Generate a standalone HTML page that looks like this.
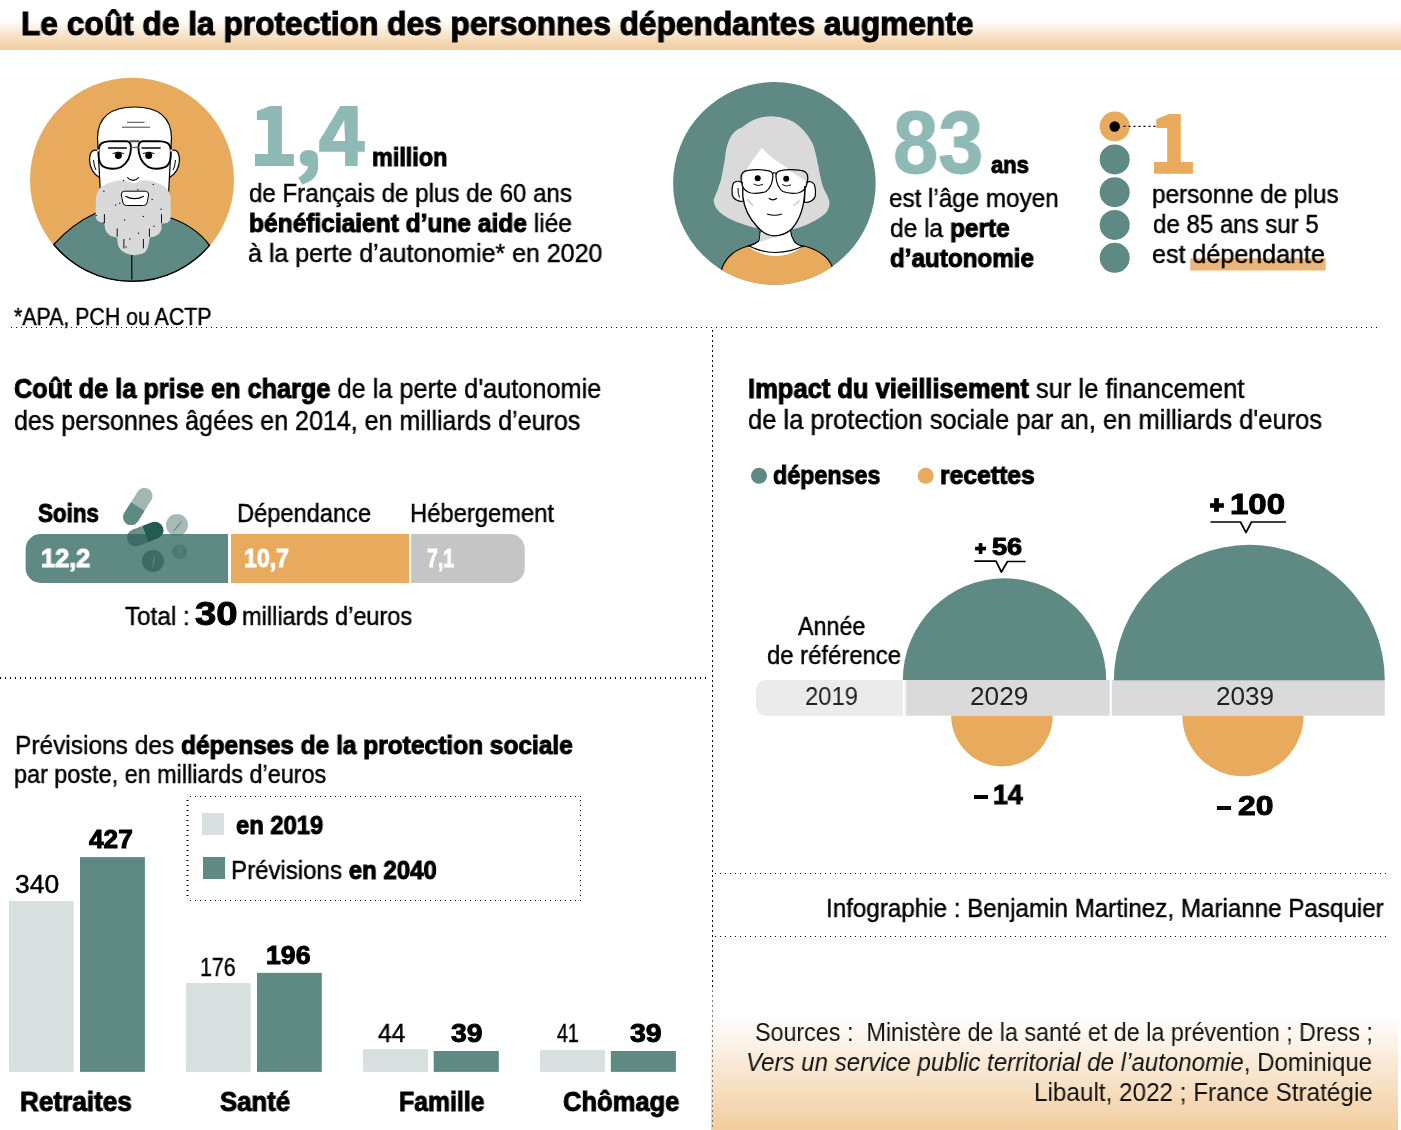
<!DOCTYPE html>
<html><head><meta charset="utf-8"><style>
html,body{margin:0;padding:0;background:#fff;}
body{width:1401px;height:1130px;position:relative;overflow:hidden;font-family:"Liberation Sans", sans-serif;}
.t{position:absolute;white-space:nowrap;transform-origin:0 0;will-change:transform;}
.t{-webkit-text-stroke:0.45px currentColor;}
.t b,.t.bd{font-weight:700;-webkit-text-stroke:1px currentColor;}
svg{position:absolute;left:0;top:0;}
</style></head><body>
<svg width="1401" height="1130" viewBox="0 0 1401 1130">
<defs>
<linearGradient id="gT" x1="0" y1="0" x2="0" y2="1">
 <stop offset="0" stop-color="#fff"/><stop offset="0.38" stop-color="#fff"/><stop offset="1" stop-color="#f1cb9c"/>
</linearGradient>
<linearGradient id="gS" x1="0" y1="0" x2="0" y2="1">
 <stop offset="0" stop-color="#fff"/><stop offset="1" stop-color="#f2cd9e"/>
</linearGradient>
<clipPath id="cMan"><circle cx="132" cy="179.8" r="102"/></clipPath>
<clipPath id="cWom"><circle cx="774.4" cy="183.4" r="101.3"/></clipPath>
</defs>
<rect x="0" y="0" width="1401" height="50" fill="url(#gT)"/>
<rect x="711" y="1014" width="687" height="116" fill="url(#gS)"/>
<pattern id="dp1" x="11" y="327" width="5" height="1" patternUnits="userSpaceOnUse"><rect width="1" height="1" fill="#000"/></pattern>
<rect x="11" y="327" width="1366" height="1" fill="url(#dp1)"/>
<pattern id="dp2" x="0" y="677" width="5" height="2" patternUnits="userSpaceOnUse"><rect width="1" height="2" fill="#000"/></pattern>
<rect x="0" y="677" width="706" height="2" fill="url(#dp2)"/>
<pattern id="dp3" x="715" y="873" width="5" height="1" patternUnits="userSpaceOnUse"><rect width="1" height="1" fill="#000"/></pattern>
<rect x="715" y="873" width="671" height="1" fill="url(#dp3)"/>
<pattern id="dp4" x="715" y="936" width="5" height="1" patternUnits="userSpaceOnUse"><rect width="1" height="1" fill="#000"/></pattern>
<rect x="715" y="936" width="671" height="1" fill="url(#dp4)"/>
<pattern id="dp5" x="712" y="330" width="1" height="5" patternUnits="userSpaceOnUse"><rect width="1" height="2" fill="#000"/></pattern>
<rect x="712" y="330" width="1" height="657" fill="url(#dp5)"/>
<pattern id="dp6" x="712" y="990" width="1" height="5" patternUnits="userSpaceOnUse"><rect width="1" height="2" fill="#7a7a7a"/></pattern>
<rect x="712" y="990" width="1" height="137" fill="url(#dp6)"/>
<g>
<circle cx="132" cy="179.8" r="102" fill="#e8aa5c"/>
<g clip-path="url(#cMan)">
<path d="M 20 268 L 53.80 244.51 Q 72 224 96 213 L 171 218 Q 196 227 209.50 245.34 L 246 268 L 246 300 L 20 300 Z" fill="#5f8a84" stroke="#000" stroke-width="1.3"/>
</g>
<path d="M 53.80 244.51 A 101.5 101.5 0 0 0 209.50 245.34" fill="none" stroke="#000" stroke-width="1.4"/>
<path d="M 99 151 Q 90 147 89.5 160 Q 90 172 100 178 Z" fill="#fff" stroke="#000" stroke-width="1.2"/>
<path d="M 170 151 Q 179 147 179.5 160 Q 179 172 169 178 Z" fill="#fff" stroke="#000" stroke-width="1.2"/>
<path d="M 93.5 160 Q 94 167 96 170" fill="none" stroke="#000" stroke-width="1"/>
<path d="M 175.5 160 Q 175 167 173 170" fill="none" stroke="#000" stroke-width="1"/>
<path d="M 100.5 195 L 97.5 138 Q 98 107 134.5 107 Q 171 107 171.5 138 L 168.5 195 Z" fill="#fff" stroke="#000" stroke-width="1.2"/>
<line x1="127" y1="122.3" x2="144.5" y2="122.3" stroke="#444" stroke-width="1"/>
<line x1="122" y1="127.2" x2="150" y2="127.2" stroke="#444" stroke-width="1"/>
<path d="M 96 196.8 Q 98 187 105 184.8 Q 114 180.5 123.1 180.3 Q 127.5 180.8 129.9 182.1 Q 133.6 184.5 138.2 182.1 Q 140.5 180.6 144.2 180.3 Q 153 180.5 161.5 184.8 Q 169 188 170.5 196.8 L 170.9 217.1 Q 170 223.2 164 223.6 L 161.5 223.6 L 161.5 229.2 Q 159 237 149.8 237.5 L 148.7 244.2 Q 147 252.5 141.9 253.8 Q 137 255.2 133.6 255.2 Q 129 255 125.4 253 Q 119 250 117.8 244.2 L 117.1 237.5 Q 111 236.5 108.8 234.4 Q 105 231 105 227.7 L 104.3 223.4 Q 99 222.5 96.8 220.1 Q 95.4 218 95.6 214.1 Z" fill="#d9d9d9"/>
<line x1="104.4" y1="214.1" x2="104.4" y2="223.2" stroke="#111" stroke-width="1"/>
<line x1="161.5" y1="214.1" x2="161.5" y2="223.2" stroke="#111" stroke-width="1"/>
<line x1="117.2" y1="228.4" x2="117.2" y2="236.7" stroke="#111" stroke-width="1"/>
<line x1="149.4" y1="228.6" x2="149.4" y2="236.9" stroke="#111" stroke-width="1"/>
<line x1="123.9" y1="239" x2="123.9" y2="248.4" stroke="#111" stroke-width="1"/>
<line x1="143.4" y1="239" x2="143.4" y2="248.4" stroke="#111" stroke-width="1"/>
<line x1="102.5" y1="222.8" x2="104.4" y2="222.8" stroke="#111" stroke-width="0.8"/>
<circle cx="103.9" cy="191.2" r="0.75" fill="#222"/>
<circle cx="123.5" cy="180.6" r="0.75" fill="#222"/>
<circle cx="137.8" cy="189.7" r="0.75" fill="#222"/>
<circle cx="153.2" cy="184.4" r="0.75" fill="#222"/>
<circle cx="152.1" cy="199.5" r="0.75" fill="#222"/>
<circle cx="115.6" cy="205.1" r="0.75" fill="#222"/>
<circle cx="119.7" cy="203.2" r="0.75" fill="#222"/>
<circle cx="161.1" cy="209.2" r="0.75" fill="#222"/>
<circle cx="143.4" cy="216.4" r="0.75" fill="#222"/>
<circle cx="124.6" cy="220.1" r="0.75" fill="#222"/>
<circle cx="154" cy="226.2" r="0.75" fill="#222"/>
<circle cx="138.5" cy="233.3" r="0.75" fill="#222"/>
<circle cx="129.9" cy="239" r="0.75" fill="#222"/>
<circle cx="126.1" cy="246.9" r="0.75" fill="#222"/>
<circle cx="96.2" cy="215.6" r="0.75" fill="#222"/>
<path d="M 124.5 191.2 L 145.5 191.2 Q 149 191.4 148.6 195 L 147 203 Q 146.3 205.5 143.5 205.5 L 126.5 205.5 Q 123.8 205.5 123 203 L 121.3 195 Q 121 191.4 124.5 191.2 Z" fill="#fff" stroke="#000" stroke-width="1"/>
<path d="M 125.4 196.2 Q 134.5 201.2 143.8 196.2" fill="none" stroke="#000" stroke-width="1.2"/>
<path d="M 127.2 177.3 Q 133.2 183.5 138.9 177.3" fill="none" stroke="#000" stroke-width="1.1"/>
<line x1="131.8" y1="255" x2="131.8" y2="279.5" stroke="#000" stroke-width="1.2"/>
<path d="M 98.6 150.5 Q 99 143 104 142.2 Q 108 141.2 112 141.1 L 127 141.3 Q 130.8 141.8 131 147 Q 131.2 153 128.4 159.3 Q 125.5 164.5 121.5 166.8 Q 117 168.9 112.5 168.8 Q 106 168.5 102.5 166 Q 99.3 163 98.7 157 Z" fill="none" stroke="#000" stroke-width="1.9"/>
<path d="M 170.80 150.5 Q 170.40 143.0 165.40 142.2 Q 161.40 141.2 157.40 141.1 L 142.40 141.3 Q 138.60 141.8 138.40 147.0 Q 138.20 153.0 141.00 159.3 Q 143.90 164.5 147.90 166.8 Q 152.40 168.9 156.90 168.8 Q 163.40 168.5 166.90 166.0 Q 170.10 163.0 170.70 157.0 Z" fill="none" stroke="#000" stroke-width="1.9"/>
<rect x="129.3" y="140.2" width="10.3" height="2.1" fill="#555"/>
<rect x="130.6" y="146.8" width="8.2" height="1.3" fill="#666"/>
<rect x="97" y="149.6" width="2.2" height="1.8" fill="#fff"/>
<rect x="170.2" y="149.6" width="2.2" height="1.8" fill="#fff"/>
<line x1="108.1" y1="148" x2="126.9" y2="148" stroke="#000" stroke-width="1.5"/>
<line x1="141.5" y1="148" x2="160.6" y2="148" stroke="#000" stroke-width="1.5"/>
<path d="M 112.6 153.6 Q 118.4 150.6 123.8 153.6" fill="none" stroke="#000" stroke-width="1"/>
<path d="M 143 153.6 Q 148.7 150.6 154.4 153.6" fill="none" stroke="#000" stroke-width="1"/>
<circle cx="118.4" cy="155.6" r="3.5" fill="#000"/>
<circle cx="148.7" cy="155.6" r="3.5" fill="#000"/>
</g>
<g>
<circle cx="774.4" cy="183.4" r="101.3" fill="#5f8a84"/>
<g clip-path="url(#cWom)">
<path d="M 742.2 127.3 Q 755 116 771.9 116.2 Q 790 117 799.2 126.1 Q 810 136 814 147.2 Q 817 158 819 169.5 Q 821 182 824 189.3 Q 828 196 829.5 201.7 Q 830 211 821.5 216.6 Q 810 225 794.2 229 L 754.6 227.7 Q 733 222 723.6 215.3 Q 713 208 713.7 199.2 Q 718 190 721.1 179.4 Q 723 170 724.8 159.6 Q 726 146 729.8 138.5 Q 734 130 742.2 127.3 Z" fill="#dadada"/>
<path d="M 716 300 L 722 268 Q 728 252 747.1 246.3 L 760 242 Q 776 262 804 246 Q 826 252 832 266 L 840 300 Z" fill="#e8aa5c" stroke="#000" stroke-width="1.2"/>
</g>
<path d="M 760.1 226 L 760.1 231.4 Q 760 240 758.3 241.3 Q 754 245 747.1 246.3 Q 776 266 804.1 246.3 Q 796 244 794.2 241.3 Q 791 236 790.5 226 Z" fill="#fff"/>
<path d="M 760.1 231 Q 760 240 758.3 241.3 Q 754 245 747.1 246.3" fill="none" stroke="#000" stroke-width="1.2"/>
<path d="M 790.5 230.5 Q 791 236 794.2 241.3 Q 797 245 804.1 246.3" fill="none" stroke="#000" stroke-width="1.2"/>
<path d="M 748.5 245.8 Q 760 252 775 252.5 Q 792 252 803 246" fill="none" stroke="#000" stroke-width="1.2"/>
<path d="M 760.5 233 L 782 234.5 Q 770 239 759.5 242 Z" fill="#dadada"/>
<path d="M 743 183 Q 737 179.5 733.5 183 Q 731.5 187 732.3 195 Q 734 201.5 743.5 201.5 Z" fill="#fff" stroke="#000" stroke-width="1.2"/>
<path d="M 805 183 Q 811 180 814 184 Q 816 188 815.3 196 Q 813.5 202.5 804.5 202.5 Z" fill="#fff" stroke="#000" stroke-width="1.2"/>
<path d="M 738 188 Q 737.8 194 739.5 197.5" fill="none" stroke="#000" stroke-width="1"/>
<path d="M 743 176 Q 752 160 762 147.8 Q 768 155 774.4 159.6 Q 785 166 791.7 172 Q 800 177 806 181 L 805 190.5 Q 804 215 791.7 229 Q 784 235.8 774.4 235.8 Q 765 235 757 226.5 Q 746 214 742.8 196.7 Z" fill="#fff"/>
<path d="M 742.8 188 L 742.8 196.7 Q 745 214 757 226.5 Q 765 235.8 774.4 235.8 Q 784 235.8 791.7 229 Q 804 215 804.8 190.5 L 804.8 186" fill="none" stroke="#000" stroke-width="1.3"/>
<path d="M 747.1 199.2 Q 750 203 753.3 205.4" fill="none" stroke="#d0d0d0" stroke-width="1.8"/>
<path d="M 799.2 200.5 Q 797 203.5 793.6 205.4" fill="none" stroke="#d0d0d0" stroke-width="1.8"/>
<path d="M 741 178 Q 741 171 748 170.3 Q 760 168.8 769 170.8 Q 773.5 172 772.8 177 Q 772 187 766 191.5 Q 760 194 751 193 Q 744.5 191.5 742.5 186 Q 741 182 741 178 Z" fill="none" stroke="#000" stroke-width="1.2"/>
<path d="M 807.8 178 Q 807.8 171 800.8 170.3 Q 788.8 168.8 779.8 170.8 Q 775.3 172 776 177 Q 776.8 187 782.8 191.5 Q 788.8 194 797.8 193 Q 804.3 191.5 806.3 186 Q 807.8 182 807.8 178 Z" fill="none" stroke="#000" stroke-width="1.2"/>
<path d="M 772.5 174 Q 774.5 171.5 776.5 174" fill="none" stroke="#000" stroke-width="1.2"/>
<circle cx="757.7" cy="178.3" r="3" fill="#000"/>
<circle cx="786.2" cy="178.8" r="3" fill="#000"/>
<path d="M 753.5 184 Q 758 187 763 184.3" fill="none" stroke="#000" stroke-width="0.9"/>
<path d="M 782 184.5 Q 786.5 187.5 791 184.8" fill="none" stroke="#000" stroke-width="0.9"/>
<path d="M 768.8 198.3 Q 772.8 201.5 776.9 198.3" fill="none" stroke="#000" stroke-width="1.1"/>
<path d="M 767 214 Q 774.5 216.5 781.8 214" fill="none" stroke="#000" stroke-width="1.2"/>
</g>
<circle cx="1114.7" cy="126.5" r="15" fill="#e8aa5c"/>
<circle cx="1114.7" cy="159.4" r="15" fill="#5f8a84"/>
<circle cx="1114.7" cy="192.2" r="15" fill="#5f8a84"/>
<circle cx="1114.7" cy="224.9" r="15" fill="#5f8a84"/>
<circle cx="1114.7" cy="257.8" r="15" fill="#5f8a84"/>
<circle cx="1114.7" cy="126.5" r="5.2" fill="#000"/>
<line x1="1123.5" y1="126.4" x2="1156.5" y2="126.4" stroke="#000" stroke-width="1.1" stroke-dasharray="2 3"/>
<rect x="1190.2" y="258.2" width="135.5" height="12.3" fill="#ecb57a"/>
<path d="M 40.6 534 L 228 534 L 228 583 L 40.6 583 A 15 15 0 0 1 25.6 568 L 25.6 549 A 15 15 0 0 1 40.6 534 Z" fill="#5f8a84"/>
<rect x="231" y="534" width="178.2" height="49" fill="#e8aa5c"/>
<path d="M 411.1 534 L 509.8 534 A 15 15 0 0 1 524.8 549 L 524.8 568 A 15 15 0 0 1 509.8 583 L 411.1 583 Z" fill="#c5c5c5"/>
<g transform="translate(137.8,506.5) rotate(-58)"><path d="M -12.5 -8 L 12.5 -8 A 8 8 0 0 1 12.5 8 L -12.5 8 A 8 8 0 0 1 -12.5 -8 Z" fill="#a3b6b3"/><path d="M -12.5 -8 L 0 -8 L 0 8 L -12.5 8 A 8 8 0 0 1 -12.5 -8 Z" fill="#5f8a84"/></g>
<circle cx="177" cy="525" r="11" fill="#4a6f69" fill-opacity="0.48"/>
<path d="M 172.3 532.5 Q 178.77 527.67 182.5 520.5 Q 176.03 525.33 172.3 532.5 Z" fill="#6f9590"/>
<circle cx="153" cy="561" r="11" fill="#3d6b65"/>
<path d="M 152.3 568.8 Q 154.93 561.48 154.8 553.7 Q 152.17 561.02 152.3 568.8 Z" fill="#6a918b"/>
<circle cx="179.5" cy="551.7" r="7.5" fill="#4f7a74"/>
<path d="M 179.3 545.5 Q 178.66 551.64 180.6 557.5 Q 181.24 551.36 179.3 545.5 Z" fill="#5f8a84"/>
<g transform="translate(145.2,534) rotate(-21)"><path d="M 0 -8.5 L 10.5 -8.5 A 8.5 8.5 0 0 1 10.5 8.5 L 0 8.5 Z" fill="#215b51"/><path d="M -10.5 -8.5 L 0 -8.5 L 0 8.5 L -10.5 8.5 A 8.5 8.5 0 0 1 -10.5 -8.5 Z" fill="#30635a" fill-opacity="0.72"/></g>
<circle cx="759" cy="475.8" r="8" fill="#5f8a84"/>
<circle cx="925.7" cy="475.8" r="8" fill="#e8aa5c"/>
<path d="M 766 680 L 902.8 680 L 902.8 715.7 L 766 715.7 A 10 10 0 0 1 756 705.7 L 756 690 A 10 10 0 0 1 766 680 Z" fill="#ebebeb"/>
<rect x="905" y="680" width="204.8" height="35.7" fill="#dadada"/>
<rect x="905" y="680" width="2" height="35.7" fill="#e8e8e8"/>
<rect x="1111.7" y="680" width="273.1" height="35.7" fill="#dadada"/>
<path d="M 902.8 680 A 101.7 101.7 0 0 1 1106.2 680 Z" fill="#5f8a84"/>
<path d="M 1113.9 680.3 A 135.45 135.45 0 0 1 1384.8 680.3 Z" fill="#5f8a84"/>
<path d="M 951.2 715.7 A 50.75 50.75 0 0 0 1052.7 715.7 Z" fill="#e8aa5c"/>
<path d="M 1182.4 715.7 A 60.55 60.55 0 0 0 1303.5 715.7 Z" fill="#e8aa5c"/>
<path d="M 974.3 561.2 L 996 561.2 L 1001.4 572 L 1007.5 561.5 L 1025.7 561.5" fill="none" stroke="#000" stroke-width="1.7" stroke-linejoin="round"/>
<path d="M 1210.5 522 L 1240.5 522 L 1246 532.5 L 1251.5 522 L 1286 522" fill="none" stroke="#000" stroke-width="1.7" stroke-linejoin="round"/>
<rect x="9" y="901" width="64.7" height="170.9" fill="#d7e0df"/>
<rect x="80" y="857.1" width="64.9" height="214.8" fill="#5f8a84"/>
<rect x="185.9" y="983" width="64.8" height="88.9" fill="#d7e0df"/>
<rect x="257" y="972.8" width="64.8" height="99.1" fill="#5f8a84"/>
<rect x="363" y="1049.2" width="65.0" height="22.7" fill="#d7e0df"/>
<rect x="433.7" y="1051" width="65.1" height="20.9" fill="#5f8a84"/>
<rect x="540" y="1050" width="65.0" height="21.9" fill="#d7e0df"/>
<rect x="610.8" y="1051" width="65.1" height="20.9" fill="#5f8a84"/>
<pattern id="dp7" x="190" y="796" width="5" height="1" patternUnits="userSpaceOnUse"><rect width="1" height="1" fill="#000"/></pattern>
<rect x="190" y="796" width="391" height="1" fill="url(#dp7)"/>
<pattern id="dp8" x="190" y="900" width="5" height="1" patternUnits="userSpaceOnUse"><rect width="1" height="1" fill="#000"/></pattern>
<rect x="190" y="900" width="391" height="1" fill="url(#dp8)"/>
<pattern id="dp9" x="186.5" y="800" width="2" height="5" patternUnits="userSpaceOnUse"><rect width="2" height="1" fill="#000"/></pattern>
<rect x="186.5" y="800" width="2" height="96" fill="url(#dp9)"/>
<pattern id="dp10" x="580" y="800" width="1" height="5" patternUnits="userSpaceOnUse"><rect width="1" height="1" fill="#000"/></pattern>
<rect x="580" y="800" width="1" height="101" fill="url(#dp10)"/>
<rect x="202" y="813" width="22" height="22" fill="#d7e0df"/>
<rect x="203" y="857" width="22" height="22" fill="#5f8a84"/>
<path d="M 281.9 106 L 270.1 106 L 256.9 111.1 L 256.9 119.9 L 268 119.9 L 268 154.1 L 255 154.1 L 255 166 L 293.9 166 L 293.9 154.1 L 281.9 154.1 Z" fill="#8fb9b5"/>
<path d="M 299.8 158.3 Q 299.8 150.1 309 150.1 Q 318.1 150.3 318.1 159 L 318.1 168 Q 317.5 180 302.2 184.6 L 298.4 177.6 Q 307 172.5 308.2 166.3 Q 299.8 166 299.8 158.3 Z" fill="#8fb9b5"/>
<path d="M 340.4 106 L 357.7 106 L 357.7 141.1 L 364.8 141.1 L 364.8 151.8 L 357.7 151.8 L 357.7 166 L 345.1 166 L 345.1 151.8 L 319.2 151.8 L 319.2 141.1 Z M 344.2 120.1 L 345.1 141.1 L 332.7 141.1 Z" fill="#8fb9b5" fill-rule="evenodd"/>
<path d="M 1180.8 114 L 1169.2 114 L 1156.3 118.9 L 1156.3 127.9 L 1167.2 127.9 L 1167.2 162.1 L 1154 162.1 L 1154 173.8 L 1192.9 173.8 L 1192.9 162.1 L 1180.8 162.1 Z" fill="#e8aa5c"/>
<rect x="975.1" y="546.7" width="10.9" height="3.7" fill="#000"/><rect x="978.7" y="543.1" width="3.7" height="10.9" fill="#000"/>
<rect x="1210" y="503.2" width="13.9" height="4.6" fill="#000"/><rect x="1214.1" y="498.1" width="4.8" height="13.7" fill="#000"/>
<rect x="974" y="795" width="14" height="4" fill="#000"/>
<rect x="1217" y="806" width="14" height="4" fill="#000"/>
</svg>
<div class="t bd" id="title" style="left:21.05px;top:6.00px;font-size:32.5px;line-height:36.31px;color:#000;font-weight:700;transform:scaleX(0.9749);-webkit-text-stroke:1.1px #000;">Le coût de la protection des personnes dépendantes augmente</div>
<div class="t bd" id="million" style="left:372.08px;top:143.81px;font-size:25px;line-height:27.93px;color:#000;font-weight:700;transform:scaleX(0.9357);">million</div>
<div class="t" id="s1l1" style="left:249.08px;top:178.60px;font-size:25.4px;line-height:28.38px;color:#000;font-weight:400;transform:scaleX(0.9493);">de Français de plus de 60 ans</div>
<div class="t" id="s1l2" style="left:248.99px;top:208.81px;font-size:25.4px;line-height:28.38px;color:#000;font-weight:400;transform:scaleX(0.9655);"><b>bénéficiaient d’une aide</b> liée</div>
<div class="t" id="s1l3" style="left:248.06px;top:238.81px;font-size:25.4px;line-height:28.38px;color:#000;font-weight:400;transform:scaleX(0.9846);">à la perte d’autonomie* en 2020</div>
<div class="t" id="apa" style="left:14.00px;top:302.81px;font-size:24.4px;line-height:27.26px;color:#000;font-weight:400;transform:scaleX(0.8740);">*APA, PCH ou ACTP</div>
<div class="t bd" id="n83" style="left:892.57px;top:94.41px;font-size:88.5px;line-height:98.87px;color:#8fb9b5;font-weight:700;transform:scaleX(0.9185);">83</div>
<div class="t bd" id="ans" style="left:990.57px;top:151.81px;font-size:24px;line-height:26.81px;color:#000;font-weight:700;transform:scaleX(0.9148);">ans</div>
<div class="t" id="s2l1" style="left:889.11px;top:183.81px;font-size:25.5px;line-height:28.49px;color:#000;font-weight:400;transform:scaleX(0.9498);">est l’âge moyen</div>
<div class="t" id="s2l2" style="left:890.10px;top:213.51px;font-size:25.5px;line-height:28.49px;color:#000;font-weight:400;transform:scaleX(0.9599);">de la <b>perte</b></div>
<div class="t" id="s2l3" style="left:889.99px;top:243.81px;font-size:25.5px;line-height:28.49px;color:#000;font-weight:400;transform:scaleX(0.9494);"><b>d’autonomie</b></div>
<div class="t" id="s3l1" style="left:1151.62px;top:179.70px;font-size:25.5px;line-height:28.49px;color:#000;font-weight:400;transform:scaleX(0.9536);">personne de plus</div>
<div class="t" id="s3l2" style="left:1152.69px;top:209.61px;font-size:25.5px;line-height:28.49px;color:#000;font-weight:400;transform:scaleX(0.9432);">de 85 ans sur 5</div>
<div class="t" id="s3l3" style="left:1151.68px;top:239.81px;font-size:25.5px;line-height:28.49px;color:#000;font-weight:400;transform:scaleX(0.9830);">est dépendante</div>
<div class="t" id="c1l1" style="left:14.39px;top:374.01px;font-size:27.5px;line-height:30.72px;color:#000;font-weight:400;transform:scaleX(0.9204);"><b>Coût de la prise en charge</b> de la perte d'autonomie</div>
<div class="t" id="c1l2" style="left:13.50px;top:406.01px;font-size:27.5px;line-height:30.72px;color:#000;font-weight:400;transform:scaleX(0.9101);">des personnes âgées en 2014, en milliards d’euros</div>
<div class="t bd" id="soins" style="left:37.60px;top:498.82px;font-size:26px;line-height:29.05px;color:#000;font-weight:700;transform:scaleX(0.8612);">Soins</div>
<div class="t" id="dep" style="left:237.21px;top:498.71px;font-size:25.6px;line-height:28.60px;color:#000;font-weight:400;transform:scaleX(0.9232);">Dépendance</div>
<div class="t" id="heb" style="left:410.01px;top:498.71px;font-size:25.6px;line-height:28.60px;color:#000;font-weight:400;transform:scaleX(0.9283);">Hébergement</div>
<div class="t bd" id="v122" style="left:41.00px;top:544.10px;font-size:26.3px;line-height:29.38px;color:#fff;font-weight:700;transform:scaleX(0.9621);">12,2</div>
<div class="t bd" id="v107" style="left:244.18px;top:544.10px;font-size:26.3px;line-height:29.38px;color:#fff;font-weight:700;transform:scaleX(0.8767);">10,7</div>
<div class="t bd" id="v71" style="left:427.45px;top:544.10px;font-size:26.3px;line-height:29.38px;color:#fff;font-weight:700;transform:scaleX(0.7396);">7,1</div>
<div class="t" id="tot1" style="left:125.20px;top:601.71px;font-size:25.6px;line-height:28.60px;color:#000;font-weight:400;transform:scaleX(0.9464);">Total :</div>
<div class="t bd" id="tot30" style="left:195.46px;top:593.71px;font-size:34px;line-height:37.98px;color:#000;font-weight:700;transform:scaleX(1.1256);">30</div>
<div class="t" id="tot2" style="left:242.08px;top:601.71px;font-size:25.6px;line-height:28.60px;color:#000;font-weight:400;transform:scaleX(0.9207);">milliards d’euros</div>
<div class="t" id="i1l1" style="left:747.66px;top:373.82px;font-size:27.5px;line-height:30.72px;color:#000;font-weight:400;transform:scaleX(0.9281);"><b>Impact du vieillisement</b> sur le financement</div>
<div class="t" id="i1l2" style="left:747.69px;top:404.91px;font-size:27.4px;line-height:30.61px;color:#000;font-weight:400;transform:scaleX(0.9324);">de la protection sociale par an, en milliards d'euros</div>
<div class="t bd" id="ldep" style="left:773.00px;top:460.91px;font-size:26px;line-height:29.05px;color:#000;font-weight:700;transform:scaleX(0.8953);">dépenses</div>
<div class="t bd" id="lrec" style="left:939.99px;top:460.91px;font-size:26px;line-height:29.05px;color:#000;font-weight:700;transform:scaleX(0.9500);">recettes</div>
<div class="t bd" id="p56" style="left:992.00px;top:532.91px;font-size:24.5px;line-height:27.37px;color:#000;font-weight:700;transform:scaleX(1.1084);">56</div>
<div class="t bd" id="p100" style="left:1229.90px;top:486.80px;font-size:30px;line-height:33.52px;color:#000;font-weight:700;transform:scaleX(1.1003);">100</div>
<div class="t" id="annee" style="left:798.00px;top:611.81px;font-size:25.8px;line-height:28.82px;color:#000;font-weight:400;transform:scaleX(0.9020);">Année</div>
<div class="t" id="defref" style="left:767.48px;top:640.70px;font-size:25.8px;line-height:28.82px;color:#000;font-weight:400;transform:scaleX(0.9253);">de référence</div>
<div class="t" id="y2019" style="left:805.45px;top:681.71px;font-size:25.4px;line-height:28.38px;color:#222;font-weight:400;transform:scaleX(0.9393);-webkit-text-stroke:0;">2019</div>
<div class="t" id="y2029" style="left:970.16px;top:681.71px;font-size:25.4px;line-height:28.38px;color:#222;font-weight:400;transform:scaleX(1.0319);-webkit-text-stroke:0;">2029</div>
<div class="t" id="y2039" style="left:1216.01px;top:681.91px;font-size:25.4px;line-height:28.38px;color:#222;font-weight:400;transform:scaleX(1.0280);-webkit-text-stroke:0;">2039</div>
<div class="t bd" id="m14" style="left:993.03px;top:779.70px;font-size:27.5px;line-height:30.72px;color:#000;font-weight:700;transform:scaleX(0.9721);">14</div>
<div class="t bd" id="m20" style="left:1238.00px;top:790.70px;font-size:27.5px;line-height:30.72px;color:#000;font-weight:700;transform:scaleX(1.1600);">20</div>
<div class="t" id="d1l1" style="left:14.51px;top:730.91px;font-size:25.8px;line-height:28.82px;color:#000;font-weight:400;transform:scaleX(0.9489);">Prévisions des <b>dépenses de la protection sociale</b></div>
<div class="t" id="d1l2" style="left:14.48px;top:759.82px;font-size:25.6px;line-height:28.60px;color:#000;font-weight:400;transform:scaleX(0.9145);">par poste, en milliards d’euros</div>
<div class="t bd" id="leg1" style="left:235.79px;top:810.90px;font-size:25.6px;line-height:28.60px;color:#000;font-weight:700;transform:scaleX(0.9282);">en 2019</div>
<div class="t" id="leg2" style="left:231.16px;top:855.81px;font-size:25.7px;line-height:28.71px;color:#000;font-weight:400;transform:scaleX(0.9364);">Prévisions <b>en 2040</b></div>
<div class="t" id="b340" style="left:15.35px;top:869.71px;font-size:25.6px;line-height:28.60px;color:#000;font-weight:400;transform:scaleX(1.0319);">340</div>
<div class="t bd" id="b427" style="left:88.54px;top:824.71px;font-size:25.6px;line-height:28.60px;color:#000;font-weight:700;transform:scaleX(1.0243);">427</div>
<div class="t" id="b176" style="left:199.64px;top:952.82px;font-size:25.6px;line-height:28.60px;color:#000;font-weight:400;transform:scaleX(0.8327);">176</div>
<div class="t bd" id="b196" style="left:265.89px;top:940.82px;font-size:25.6px;line-height:28.60px;color:#000;font-weight:700;transform:scaleX(1.0415);">196</div>
<div class="t" id="b44" style="left:378.00px;top:1019.00px;font-size:25.8px;line-height:28.82px;color:#000;font-weight:400;transform:scaleX(0.9531);">44</div>
<div class="t bd" id="b39a" style="left:450.57px;top:1019.00px;font-size:25.8px;line-height:28.82px;color:#000;font-weight:700;transform:scaleX(1.0967);">39</div>
<div class="t" id="b41" style="left:557.43px;top:1019.00px;font-size:25.8px;line-height:28.82px;color:#000;font-weight:400;transform:scaleX(0.7605);">41</div>
<div class="t bd" id="b39b" style="left:629.55px;top:1019.00px;font-size:25.8px;line-height:28.82px;color:#000;font-weight:700;transform:scaleX(1.1025);">39</div>
<div class="t bd" id="retr" style="left:20.44px;top:1086.70px;font-size:27px;line-height:30.16px;color:#000;font-weight:700;transform:scaleX(0.9679);">Retraites</div>
<div class="t bd" id="sante" style="left:220.38px;top:1086.70px;font-size:27px;line-height:30.16px;color:#000;font-weight:700;transform:scaleX(0.9537);">Santé</div>
<div class="t bd" id="fam" style="left:398.68px;top:1086.70px;font-size:27px;line-height:30.16px;color:#000;font-weight:700;transform:scaleX(0.9187);">Famille</div>
<div class="t bd" id="chom" style="left:562.59px;top:1086.70px;font-size:27px;line-height:30.16px;color:#000;font-weight:700;transform:scaleX(0.9461);">Chômage</div>
<div class="t" id="info" style="left:825.93px;top:894.00px;font-size:25.7px;line-height:28.71px;color:#000;font-weight:400;transform:scaleX(0.9412);">Infographie : Benjamin Martinez, Marianne Pasquier</div>
<div class="t" id="src1" style="left:755.27px;top:1017.51px;font-size:25.5px;line-height:28.49px;color:#111;font-weight:400;transform:scaleX(0.9139);-webkit-text-stroke:0;">Sources :&nbsp; Ministère de la santé et de la prévention ; Dress ;</div>
<div class="t" id="src2" style="left:746.09px;top:1047.61px;font-size:25.5px;line-height:28.49px;color:#111;font-weight:400;transform:scaleX(0.9432);-webkit-text-stroke:0;"><i>Vers un service public territorial de l’autonomie</i>, Dominique</div>
<div class="t" id="src3" style="left:1034.49px;top:1077.51px;font-size:25.5px;line-height:28.49px;color:#111;font-weight:400;transform:scaleX(0.9522);-webkit-text-stroke:0;">Libault, 2022 ; France Stratégie</div>
</body></html>
